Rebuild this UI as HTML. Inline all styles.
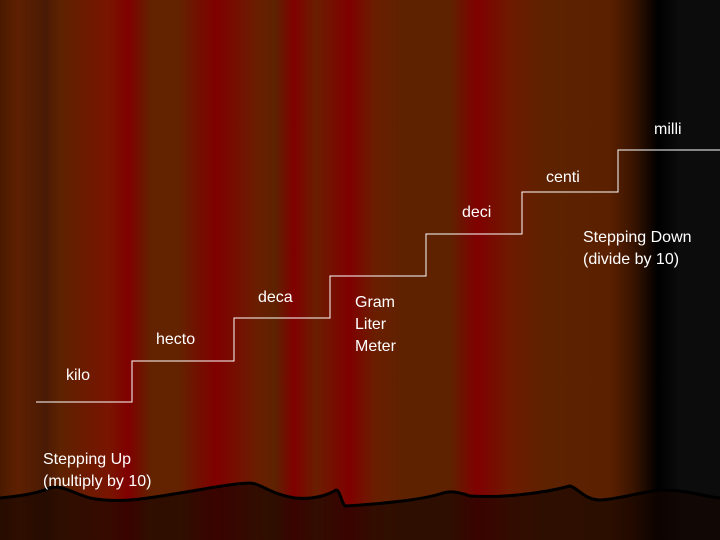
<!DOCTYPE html>
<html><head><style>
html,body{margin:0;padding:0}
body{width:720px;height:540px;position:relative;overflow:hidden;font-family:"Liberation Sans",sans-serif;
background:linear-gradient(to right,#4a1a00 0px,#5e2000 18px,#4a1a04 46px,#5e2200 60px,#7a1400 110px,#800000 128px,#632200 151px,#632200 179px,#800000 216px,#6a1e00 257px,#5e2200 275px,#800000 294px,#6a1e00 316px,#800000 349px,#6a1e00 375px,#5e2200 404px,#5e2200 450px,#800000 477px,#6e1a00 510px,#5e2200 545px,#5a2000 610px,#3a1400 633px,#000 658px,#0c0c0c 680px,#0c0c0c 720px);}
.t{position:absolute;color:#fff;font-size:16px;line-height:22px;white-space:nowrap}
</style></head><body>
<svg width="720" height="540" style="position:absolute;left:0;top:0">
<path d="M0,498 C20,496 35,494 50,488 C60,484 70,492 90,498 C120,504 150,498 180,493 C210,488 230,484 250,483 C262,484 270,494 295,498 C315,500 330,494 336,490 C340,490 341,502 345,506 C380,504 420,500 440,494 C450,490 458,492 470,496 C500,498 540,494 570,486 C578,488 585,500 600,500 C620,499 640,492 660,490 C690,490 700,496 720,498 L720,540 L0,540 Z" fill="rgba(20,4,0,0.65)" stroke="none"/>
<path d="M0,498 C20,496 35,494 50,488 C60,484 70,492 90,498 C120,504 150,498 180,493 C210,488 230,484 250,483 C262,484 270,494 295,498 C315,500 330,494 336,490 C340,490 341,502 345,506 C380,504 420,500 440,494 C450,490 458,492 470,496 C500,498 540,494 570,486 C578,488 585,500 600,500 C620,499 640,492 660,490 C690,490 700,496 720,498" fill="none" stroke="#000" stroke-width="3"/>
<polyline points="36,402 132,402 132,361 234,361 234,318 330,318 330,276 426,276 426,234 522,234 522,192 618,192 618,150 720,150" fill="none" stroke="#fff" stroke-width="1"/>
</svg>
<div class="t" style="left:654px;top:119px">milli</div>
<div class="t" style="left:546px;top:167px">centi</div>
<div class="t" style="left:462px;top:202px">deci</div>
<div class="t" style="left:583px;top:227px">Stepping Down<br>(divide by 10)</div>
<div class="t" style="left:258px;top:287px">deca</div>
<div class="t" style="left:355px;top:292px">Gram<br>Liter<br>Meter</div>
<div class="t" style="left:156px;top:329px">hecto</div>
<div class="t" style="left:66px;top:365px">kilo</div>
<div class="t" style="left:43px;top:449px">Stepping Up<br>(multiply by 10)</div>
</body></html>
